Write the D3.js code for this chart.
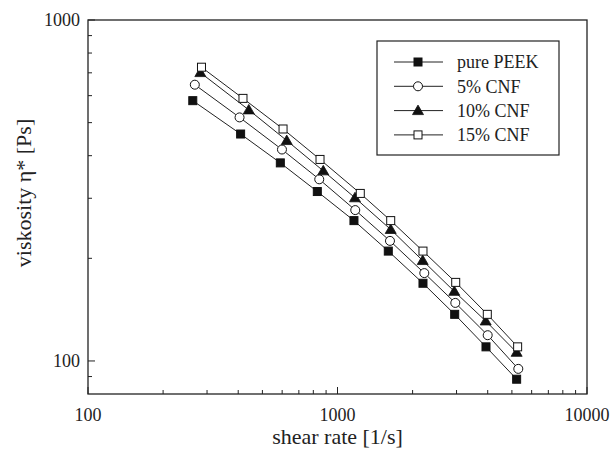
<!DOCTYPE html>
<html>
<head>
<meta charset="utf-8">
<script src="https://cdn.jsdelivr.net/npm/d3@7"></script>
<style>
  body { margin: 0; background: #fff; }
  text { font-family: "Liberation Serif", "Times New Roman", serif; fill: #222; }
</style>
</head>
<body>
<div id="chart"></div>
<script>
// series names and values
var seriesNames = ["pure PEEK", "5% CNF", "10% CNF", "15% CNF"];
var seriesSymbols = ["squareFilled", "circleOpen", "triangleFilled", "squareOpen"];

var ratePEEK = [263, 409, 590, 830, 1164, 1598, 2201, 2949, 3937, 5224];
var viscPEEK = [580, 463, 381, 314, 258, 210, 169, 137, 110, 88.4];

var rateCNF5 = [268, 405, 599, 845, 1178, 1623, 2228, 2966, 3999, 5304];
var viscCNF5 = [646, 518, 417, 341, 277, 225, 181, 148, 119, 94.8];

var rateCNF10 = [282, 441, 626, 877, 1175, 1634, 2195, 2938, 3926, 5224];
var viscCNF10 = [701, 545, 443, 361, 301, 243, 197, 160, 131, 106];

var rateCNF15 = [285, 418, 605, 851, 1234, 1634, 2201, 2977, 3985, 5272];
var viscCNF15 = [727, 589, 479, 390, 310, 258, 210, 170, 137, 110];

var xTickLabels = [100, 1000, 10000];
var yTickLabels = [100, 1000];

var rates = [ratePEEK, rateCNF5, rateCNF10, rateCNF15];
var viscs = [viscPEEK, viscCNF5, viscCNF10, viscCNF15];

var W = 612, H = 450;
var margin = {top: 20, right: 25, bottom: 56, left: 88},
	width = W - margin.left - margin.right,
	height = H - margin.top - margin.bottom;

var svg = d3.select("#chart").append("svg")
	.attr("width", W)
	.attr("height", H);

var g = svg.append("g")
	.attr("transform", "translate(" + margin.left + "," + margin.top + ")");

var x = d3.scaleLog().domain([100, 10000]).range([0, width]);
var y = d3.scaleLog().domain([80, 1000]).range([height, 0]);

var ink = "#222";

// minor ticks
var xMinor = [];
[100, 1000].forEach(function (d) {
	for (var k = 2; k <= 9; k++) xMinor.push(d * k);
});
var yMinor = [90, 200, 300, 400, 500, 600, 700, 800, 900];

g.selectAll(".xminor").data(xMinor).enter().append("line")
	.attr("x1", function (d) { return x(d); })
	.attr("x2", function (d) { return x(d); })
	.attr("y1", height).attr("y2", height - 4)
	.attr("stroke", ink).attr("stroke-width", 1);

g.selectAll(".xmajor").data(xTickLabels).enter().append("line")
	.attr("x1", function (d) { return x(d); })
	.attr("x2", function (d) { return x(d); })
	.attr("y1", height).attr("y2", height - 7)
	.attr("stroke", ink).attr("stroke-width", 1);

g.selectAll(".yminor").data(yMinor).enter().append("line")
	.attr("y1", function (d) { return y(d); })
	.attr("y2", function (d) { return y(d); })
	.attr("x1", 0).attr("x2", 4)
	.attr("stroke", ink).attr("stroke-width", 1);

g.selectAll(".ymajor").data(yTickLabels).enter().append("line")
	.attr("y1", function (d) { return y(d); })
	.attr("y2", function (d) { return y(d); })
	.attr("x1", 0).attr("x2", 7)
	.attr("stroke", ink).attr("stroke-width", 1);

// tick labels
g.selectAll(".xlab").data(xTickLabels).enter().append("text")
	.attr("x", function (d) { return x(d); })
	.attr("y", height + 27)
	.attr("text-anchor", "middle")
	.style("font-size", "18px")
	.text(function (d) { return d; });

g.selectAll(".ylab").data(yTickLabels).enter().append("text")
	.attr("x", -8)
	.attr("y", function (d) { return y(d); })
	.attr("dy", "0.33em")
	.attr("text-anchor", "end")
	.style("font-size", "18px")
	.text(function (d) { return d; });

// frame
g.append("rect")
	.attr("width", width).attr("height", height)
	.attr("fill", "none").attr("stroke", ink).attr("stroke-width", 1.3);

// axis titles
svg.append("text")
	.attr("x", margin.left + width / 2)
	.attr("y", 444)
	.attr("text-anchor", "middle")
	.style("font-size", "22px")
	.text("shear rate [1/s]");

svg.append("text")
	.attr("transform", "translate(31,193) rotate(-90)")
	.attr("text-anchor", "middle")
	.style("font-size", "22px")
	.text("viskosity η* [Ps]");

// markers
function drawSymbol(sel, kind, cx, cy) {
	if (kind === "squareFilled" || kind === "squareOpen") {
		sel.append("rect")
			.attr("x", cx - 4).attr("y", cy - 4)
			.attr("width", 8).attr("height", 8)
			.attr("fill", kind === "squareFilled" ? "#111" : "#fff")
			.attr("stroke", "#111").attr("stroke-width", 1);
	} else if (kind === "circleOpen") {
		sel.append("circle")
			.attr("cx", cx).attr("cy", cy).attr("r", 4.5)
			.attr("fill", "#fff").attr("stroke", "#111").attr("stroke-width", 1);
	} else {
		sel.append("path")
			.attr("d", "M" + cx + "," + (cy - 5.5) + "L" + (cx + 5.5) + "," + (cy + 4) + "L" + (cx - 5.5) + "," + (cy + 4) + "Z")
			.attr("fill", "#111").attr("stroke", "#111").attr("stroke-width", 0.8);
	}
}

var line = d3.line()
	.x(function (d) { return x(d[0]); })
	.y(function (d) { return y(d[1]); });

seriesNames.forEach(function (name, i) {
	var pts = d3.zip(rates[i], viscs[i]);
	var sg = g.append("g").attr("class", "series");
	sg.append("path")
		.attr("d", line(pts))
		.attr("fill", "none")
		.attr("stroke", ink)
		.attr("stroke-width", 1);
	pts.forEach(function (p) {
		drawSymbol(sg, seriesSymbols[i], x(p[0]), y(p[1]));
	});
});

// legend
var legend = svg.append("g").attr("transform", "translate(377,41)");
legend.append("rect")
	.attr("width", 182).attr("height", 114)
	.attr("fill", "#fff").attr("stroke", ink).attr("stroke-width", 1.2);

seriesNames.forEach(function (name, i) {
	var ly = 21 + i * 24.3;
	legend.append("line")
		.attr("x1", 17).attr("x2", 66)
		.attr("y1", ly).attr("y2", ly)
		.attr("stroke", ink).attr("stroke-width", 1);
	drawSymbol(legend, seriesSymbols[i], 41, ly);
	legend.append("text")
		.attr("x", 80).attr("y", ly)
		.attr("dy", "0.35em")
		.style("font-size", "18px")
		.text(name);
});
</script>
</body>
</html>
